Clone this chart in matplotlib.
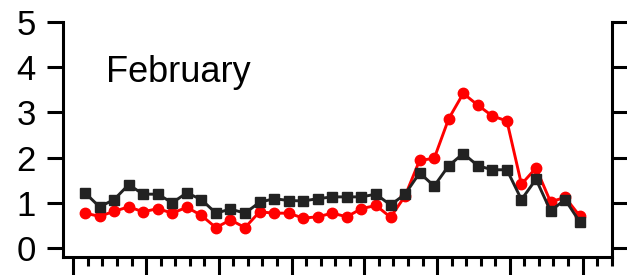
import numpy as np
import matplotlib
matplotlib.use('Agg')
import matplotlib.pyplot as plt
from matplotlib.ticker import MultipleLocator

plt.rcParams['font.family'] = ['Liberation Sans', 'DejaVu Sans']

# values (35 points)
black = [1.22, 0.91, 1.07, 1.40, 1.19, 1.19, 1.00, 1.22, 1.07, 0.77,
         0.86, 0.77, 1.01, 1.09, 1.05, 1.04, 1.09, 1.13, 1.13, 1.13,
         1.19, 0.95, 1.19, 1.66, 1.37, 1.82, 2.09, 1.82, 1.73, 1.73,
         1.07, 1.52, 0.82, 1.07, 0.58]
red = [0.77, 0.70, 0.81, 0.91, 0.80, 0.87, 0.77, 0.90, 0.72, 0.45,
       0.62, 0.45, 0.80, 0.77, 0.77, 0.66, 0.69, 0.77, 0.69, 0.87,
       0.94, 0.68, 1.15, 1.94, 1.98, 2.86, 3.42, 3.16, 2.92, 2.81,
       1.41, 1.77, 1.02, 1.12, 0.71]
label = 'February'
yticks = [0, 1, 2, 3, 4, 5]

x = np.arange(len(black)) + 0.8

fig = plt.figure(figsize=(6.27, 2.75), dpi=100)
ax = fig.add_axes([0.1005, 0.0655, 0.8755, 0.8545])

ax.plot(x, red, color='#ff0000', lw=2.1, marker='o', ms=7.5, zorder=2)
ax.plot(x, black, color='#222222', lw=2.1, marker='s', ms=7.5, zorder=3)

ax.set_xlim(-0.71, 37.02)
ax.set_ylim(-0.2, 5)
ax.set_yticks(yticks)
ax.xaxis.set_major_locator(MultipleLocator(5))
ax.xaxis.set_minor_locator(MultipleLocator(1))
ax.set_xticklabels([])

ax.spines['top'].set_visible(False)
for s in ['left', 'right', 'bottom']:
    ax.spines[s].set_linewidth(2.2)

ax.tick_params(axis='y', which='major', direction='out', length=11.5, width=2.2,
               labelsize=25, pad=8, right=True)
ax.tick_params(axis='x', which='major', direction='out', length=13, width=2.2)
ax.tick_params(axis='x', which='minor', direction='out', length=6.5, width=2.2)

ax.text(2.25, 3.67, label, fontsize=26, ha='left', va='baseline')

fig.savefig('out.png', dpi=100)
